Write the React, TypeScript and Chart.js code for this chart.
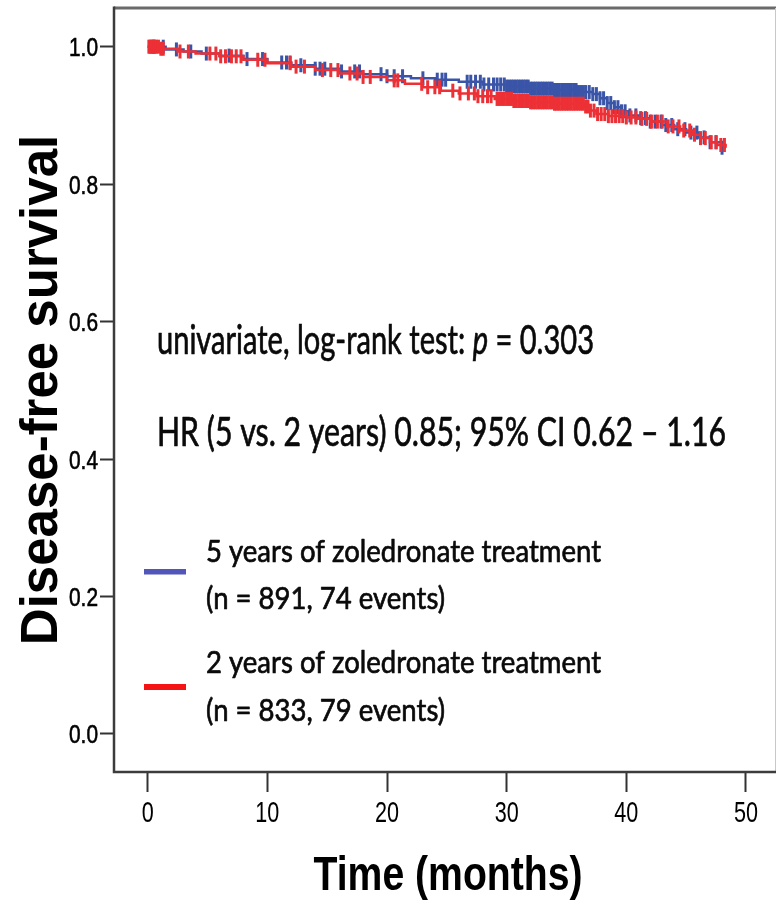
import React, { useEffect, useRef } from "react";
import { Chart, registerables } from "chart.js";

Chart.register(...registerables);

// ---------------- data ----------------
const xTickValues = [0, 10, 20, 30, 40, 50];
const yTickValues = [0, 0.2, 0.4, 0.6, 0.8, 1.0];

// 5 years of zoledronate (blue) – Kaplan–Meier step points (months, survival)
const blueTimes = [0, 1.5, 3, 4.5, 6, 8, 10, 12, 14, 16, 18, 20, 22, 24, 26, 28, 30, 32, 34, 36, 37.2, 37.8, 38.4, 39, 39.6, 40.2, 41, 42, 43, 44, 45, 46, 47, 48, 48.3];
const blueSurv = [1.0, 0.996, 0.993, 0.99, 0.987, 0.982, 0.977, 0.973, 0.968, 0.964, 0.96, 0.957, 0.954, 0.952, 0.949, 0.945, 0.942, 0.939, 0.937, 0.934, 0.931, 0.925, 0.918, 0.912, 0.906, 0.9, 0.896, 0.891, 0.886, 0.88, 0.875, 0.868, 0.861, 0.853, 0.853];

// 2 years of zoledronate (red)
const redTimes = [0, 1, 2.5, 4, 6, 8, 10, 12, 14, 16, 18, 20, 21.5, 23, 24.5, 26, 27.5, 29, 30.5, 32, 34, 36.5, 37, 37.5, 38.5, 40, 41, 42, 43.4, 44.5, 45.5, 46.2, 47, 47.6, 48.3];
const redSurv = [1.0, 0.997, 0.993, 0.99, 0.986, 0.981, 0.976, 0.971, 0.966, 0.961, 0.956, 0.951, 0.946, 0.941, 0.936, 0.932, 0.928, 0.924, 0.921, 0.919, 0.917, 0.913, 0.907, 0.902, 0.899, 0.897, 0.895, 0.891, 0.884, 0.878, 0.872, 0.867, 0.861, 0.857, 0.853];

// censoring times (months)
const blueCensor = [0.5, 1.3, 2.4, 3.6, 4.9, 6.8, 8.3, 9.6, 11.2, 11.6, 11.9, 12.8, 14.0, 14.4, 14.8, 16.2, 17.3, 17.7, 19.5, 20.0, 20.6, 21.3, 23.0, 24.2, 24.6, 24.9, 26.7, 27.0, 27.4, 27.8, 28.1, 28.5, 28.9, 29.2, 29.5, 29.8, 30.0, 30.2, 30.4, 30.6, 30.8, 31.0, 31.2, 31.4, 31.6, 31.8, 32.0, 32.2, 32.4, 32.6, 32.8, 33.0, 33.2, 33.4, 33.6, 33.8, 34.0, 34.2, 34.4, 34.6, 34.8, 35.0, 35.2, 35.4, 35.6, 35.8, 36.0, 36.2, 36.4, 36.6, 36.9, 37.2, 37.5, 37.8, 38.1, 38.4, 38.7, 39.0, 39.3, 39.6, 39.9, 40.3, 40.8, 41.2, 41.6, 42.0, 42.4, 42.9, 43.3, 43.8, 44.3, 44.9, 45.4, 45.9, 46.5, 47.0, 47.5, 48.0];
const redCensor = [0.1, 0.2, 0.3, 0.4, 0.5, 0.6, 0.7, 0.9, 1.1, 1.3, 2.7, 3.4, 5.2, 5.7, 6.1, 6.5, 7.0, 7.4, 7.8, 9.2, 9.8, 11.9, 12.4, 13.1, 14.6, 15.3, 15.9, 16.9, 17.5, 18.0, 18.6, 20.6, 20.9, 22.9, 23.4, 24.0, 24.4, 25.5, 26.1, 26.8, 27.3, 27.6, 28.0, 28.4, 28.7, 29.2, 29.4, 29.6, 29.8, 30.0, 30.2, 30.4, 30.6, 30.8, 31.0, 31.2, 31.4, 31.6, 31.8, 32.0, 32.2, 32.4, 32.6, 32.8, 33.0, 33.2, 33.4, 33.6, 33.8, 34.0, 34.2, 34.4, 34.6, 34.8, 35.0, 35.2, 35.4, 35.6, 35.8, 36.0, 36.2, 36.4, 36.6, 36.8, 37.0, 37.3, 37.6, 37.9, 38.2, 38.5, 38.8, 39.1, 39.4, 39.7, 40.0, 40.4, 40.8, 41.3, 41.7, 42.1, 42.6, 43.0, 43.5, 43.9, 44.4, 44.8, 45.3, 45.7, 46.2, 46.6, 47.1, 47.5, 47.9, 48.2];

// texts
const xTitle = "Time (months)";
const yTitle = "Disease-free survival";
const statLine1 = ["univariate, log-rank test: ", "p", " = 0.303"];
const statLine2 = "HR (5 vs. 2 years) 0.85; 95% CI 0.62 \u2013 1.16";
const blueLegend = ["5 years of zoledronate treatment", "(n = 891, 74 events)"];
const redLegend = ["2 years of zoledronate treatment", "(n = 833, 79 events)"];

// ---------------- styles ----------------
const BLUE = "#3a54a8";
const RED = "#ec3035";
const BLUE_LEGEND = "#5156b8";
const RED_LEGEND = "#f41414";
const TEXT_FONT = "Lato, 'Open Sans', sans-serif";
const AXIS_FONT = "'Liberation Sans', Arial, sans-serif";

function survAt(times: number[], surv: number[], t: number) {
  let v = surv[0];
  for (let i = 0; i < times.length; i++) {
    if (times[i] <= t) v = surv[i];
    else break;
  }
  return v;
}

function drawFitted(
  ctx: CanvasRenderingContext2D,
  parts: { text: string; italic?: boolean }[],
  x: number,
  baseline: number,
  width: number | null,
  size: number,
  sxFixed?: number
) {
  const fonts = parts.map((p) => `${p.italic ? "italic " : ""}${size}px ${TEXT_FONT}`);
  let total = 0;
  parts.forEach((p, i) => {
    ctx.font = fonts[i];
    total += ctx.measureText(p.text).width;
  });
  const sx = sxFixed != null ? sxFixed : (width as number) / total;
  ctx.save();
  ctx.translate(x, baseline);
  ctx.scale(sx, 1);
  ctx.textBaseline = "alphabetic";
  ctx.textAlign = "left";
  ctx.fillStyle = "#0a0a0a";
  ctx.strokeStyle = "#0a0a0a";
  ctx.lineWidth = 0.7;
  ctx.lineJoin = "round";
  let cx = 0;
  parts.forEach((p, i) => {
    ctx.font = fonts[i];
    ctx.fillText(p.text, cx, 0);
    ctx.strokeText(p.text, cx, 0);
    cx += ctx.measureText(p.text).width;
  });
  ctx.restore();
  return sx;
}

// text squeezed horizontally to the reference's proportions
function drawSqueezed(
  ctx: CanvasRenderingContext2D,
  text: string,
  x: number,
  baseline: number,
  font: string,
  sx: number,
  align: CanvasTextAlign,
  targetWidth?: number,
  stroke?: number
) {
  ctx.save();
  ctx.font = font;
  let s = sx;
  if (targetWidth) s = targetWidth / ctx.measureText(text).width;
  ctx.translate(x, baseline);
  ctx.scale(s, 1);
  ctx.textAlign = align;
  ctx.textBaseline = "alphabetic";
  ctx.fillStyle = "#000";
  ctx.fillText(text, 0, 0);
  if (stroke) {
    ctx.strokeStyle = "#000";
    ctx.lineWidth = stroke;
    ctx.strokeText(text, 0, 0);
  }
  ctx.restore();
}

const framePlugin = {
  id: "frame",
  afterDraw(chart: any) {
    const { ctx, chartArea } = chart;
    const { left, right, top, bottom } = chartArea;
    ctx.save();
    ctx.lineCap = "butt";
    ctx.strokeStyle = "#6a6a6a";
    ctx.lineWidth = 3;
    ctx.beginPath();
    ctx.moveTo(left, top);
    ctx.lineTo(right, top);
    ctx.stroke();
    ctx.strokeStyle = "#c8c8c8";
    ctx.lineWidth = 1;
    ctx.beginPath();
    ctx.moveTo(right - 0.5, top);
    ctx.lineTo(right - 0.5, bottom);
    ctx.stroke();
    ctx.strokeStyle = "#3c3c3c";
    ctx.lineWidth = 2.5;
    ctx.beginPath();
    ctx.moveTo(left, top - 1.5);
    ctx.lineTo(left, bottom);
    ctx.lineTo(right, bottom);
    ctx.stroke();
    ctx.restore();
  },
};

const axisLabelPlugin = {
  id: "axisLabels",
  afterDraw(chart: any) {
    const { ctx, chartArea } = chart;
    const xs = chart.scales.x;
    const ys = chart.scales.y;
    xs.ticks.forEach((t: any) => {
      const px = xs.getPixelForValue(t.value);
      drawSqueezed(ctx, String(t.value), px, chartArea.bottom + 50, `30px ${AXIS_FONT}`, 0.72, "center");
    });
    ys.ticks.forEach((t: any) => {
      const py = ys.getPixelForValue(t.value);
      drawSqueezed(ctx, Number(t.value).toFixed(1), chartArea.left - 16, py + 9.5, `26px ${AXIS_FONT}`, 1, "right", 29, 0.6);
    });
    drawSqueezed(
      ctx,
      xTitle,
      (chartArea.left + chartArea.right) / 2 + 3,
      890,
      `bold 48px ${AXIS_FONT}`,
      1,
      "center",
      269
    );
  },
};

const textPlugin = {
  id: "texts",
  afterDraw(chart: any) {
    const ctx: CanvasRenderingContext2D = chart.ctx;
    // statistics
    drawFitted(
      ctx,
      [{ text: statLine1[0] }, { text: statLine1[1], italic: true }, { text: statLine1[2] }],
      157, 354, 437, 40
    );
    drawFitted(ctx, [{ text: statLine2 }], 157, 446, 569, 40);

    // legend
    ctx.save();
    ctx.fillStyle = BLUE_LEGEND;
    ctx.fillRect(144, 569, 42, 5.5);
    ctx.fillStyle = RED_LEGEND;
    ctx.fillRect(144, 684, 42, 6);
    ctx.restore();
    const sb = drawFitted(ctx, [{ text: blueLegend[0] }], 206, 562, 395, 31);
    drawFitted(ctx, [{ text: blueLegend[1] }], 206, 609, null, 31, sb);
    const sr = drawFitted(ctx, [{ text: redLegend[0] }], 206, 673, 395, 31);
    drawFitted(ctx, [{ text: redLegend[1] }], 206, 721, null, 31, sr);
  },
};

export default function App() {
  const ref = useRef<HTMLCanvasElement | null>(null);

  useEffect(() => {
    if (!ref.current) return;
    const curve = (times: number[], surv: number[]) => times.map((t, i) => ({ x: t, y: surv[i] }));
    const marks = (c: number[], times: number[], surv: number[]) =>
      c.map((t) => ({ x: t, y: survAt(times, surv, t) }));

    const censorStyle = (color: string) => ({
      showLine: false,
      pointStyle: "line" as const,
      pointRotation: 90,
      pointRadius: 7,
      pointHoverRadius: 7,
      pointBorderWidth: 3,
      pointBorderColor: color,
      borderColor: color,
      backgroundColor: color,
    });

    const chart = new Chart(ref.current, {
      type: "line",
      data: {
        datasets: [
          { label: "2 years censored", data: marks(redCensor, redTimes, redSurv), ...censorStyle(RED) },
          {
            label: redLegend[0],
            data: curve(redTimes, redSurv),
            borderColor: RED,
            borderWidth: 2.5,
            pointRadius: 0,
            stepped: true,
            fill: false,
          },
          { label: "5 years censored", data: marks(blueCensor, blueTimes, blueSurv), ...censorStyle(BLUE) },
          {
            label: blueLegend[0],
            data: curve(blueTimes, blueSurv),
            borderColor: BLUE,
            borderWidth: 2.5,
            pointRadius: 0,
            stepped: true,
            fill: false,
          },
        ],
      },
      options: {
        animation: false,
        responsive: false,
        events: [],
        layout: { autoPadding: false, padding: { left: 0, right: 1, top: 8, bottom: 0 } },
        plugins: { legend: { display: false }, tooltip: { enabled: false } },
        scales: {
          x: {
            type: "linear",
            min: -2.816,
            max: 52.51,
            afterBuildTicks: (s: any) => {
              s.ticks = xTickValues.map((v) => ({ value: v }));
            },
            afterFit: (s: any) => {
              s.height = 128;
              s.paddingLeft = 0;
              s.paddingRight = 0;
            },
            border: { display: false },
            grid: {
              display: true,
              drawOnChartArea: false,
              drawTicks: true,
              tickLength: 20,
              tickWidth: 2,
              tickColor: "#333",
              color: "#333",
            },
            ticks: { display: false, autoSkip: false },
            title: { display: false, text: xTitle },
          },
          y: {
            type: "linear",
            min: -0.0553,
            max: 1.0563,
            afterBuildTicks: (s: any) => {
              s.ticks = yTickValues.map((v) => ({ value: v }));
            },
            afterFit: (s: any) => {
              s.width = 114;
              s.paddingTop = 0;
              s.paddingBottom = 0;
            },
            border: { display: false },
            grid: {
              display: true,
              drawOnChartArea: false,
              drawTicks: true,
              tickLength: 14,
              tickWidth: 2,
              tickColor: "#333",
              color: "#333",
            },
            ticks: { display: false, autoSkip: false },
            title: {
              display: true,
              text: yTitle,
              color: "#000",
              padding: { top: 12, bottom: 0 },
              font: { family: AXIS_FONT, size: 51, weight: "bold" },
            },
          },
        },
      },
      plugins: [framePlugin, axisLabelPlugin, textPlugin],
    });
    return () => chart.destroy();
  }, []);

  return (
    <div style={{ position: "absolute", left: 0, top: 0, width: 777, height: 900, background: "#fff" }}>
      <canvas ref={ref} width={777} height={900} style={{ display: "block" }} />
    </div>
  );
}
